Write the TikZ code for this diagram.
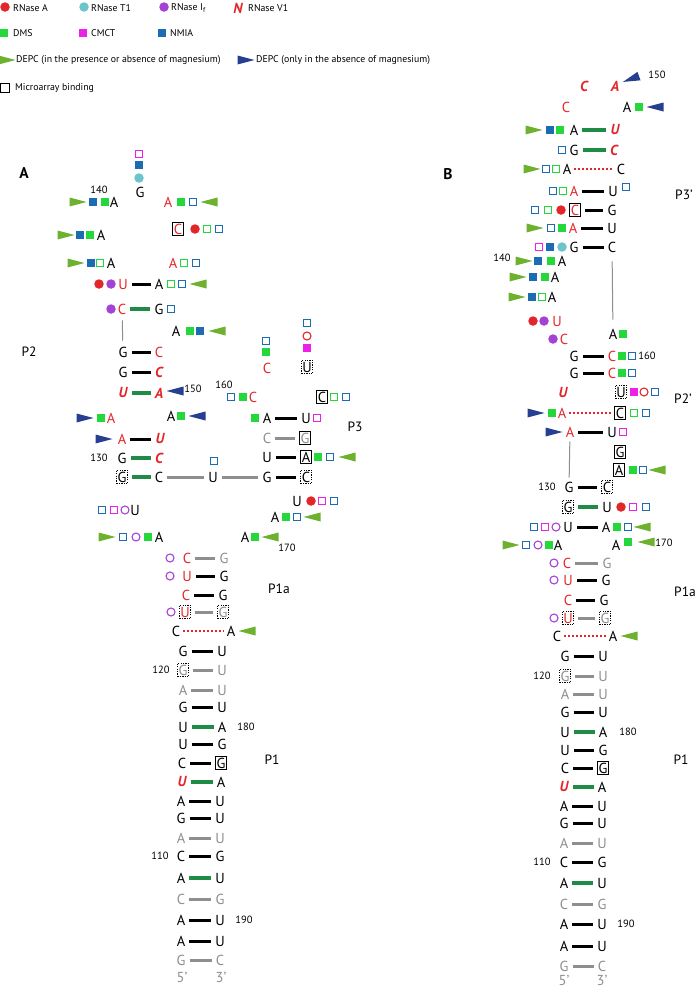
\documentclass[tikz,border=0pt]{standalone}
\usepackage{fontspec}
\setmainfont{PT Sans}
\definecolor{cR}{HTML}{E3262A}
\definecolor{cT}{HTML}{6CC5CC}
\definecolor{cP}{HTML}{A542D6}
\definecolor{cG}{HTML}{24D83C}
\definecolor{cM}{HTML}{EE1FE6}
\definecolor{cB}{HTML}{1C6CB4}
\definecolor{cTG}{HTML}{6DB12F}
\definecolor{cN}{HTML}{263F91}
\definecolor{cPG}{HTML}{1F8B47}
\definecolor{cGy}{HTML}{8E8E8E}
\newcommand\ntf{\fontsize{14.5}{14.5}\selectfont}
\newcommand\numf{\fontsize{10.5}{10.5}\selectfont}
\newcommand\labf{\fontsize{13.5}{13.5}\selectfont}
\newcommand\legf{\fontsize{9.8}{10}\selectfont}
\newcounter{mk}
\newcommand\mk[3]{\stepcounter{mk}\node[#1] (mk\arabic{mk}) at (#2,#3) {};}
\newcommand\tri[4]{\stepcounter{mk}\coordinate (mk\arabic{mk}) at (#2,#3);\fill[#1,shift={(mk\arabic{mk})},rotate=#4] (-8.5,-4.5) -- (8.5,0) -- (-8.5,4.5) -- cycle;}
\newcommand\bp[9]{\node[#5] (#1l) at (#2,#4) {#6};\node[#7] (#1r) at (#3,#4) {#8};\draw[#9] (#1l) -- (#1r);}
\tikzset{
 nt/.style={inner sep=0pt, font=\ntf},
 nk/.style={nt, text=black},
 nr/.style={nt, text=cR},
 nrb/.style={nt, text=cR, font=\ntf\bfseries\itshape},
 ngy/.style={nt, text=cGy},
 bxs/.style={draw=black, line width=0.9pt, minimum width=11pt, minimum height=13.5pt},
 bxd/.style={draw=black, line width=0.9pt, dash pattern=on 1.2pt off 1.2pt, minimum width=11pt, minimum height=13.5pt},
 pk/.style={draw=black, line width=3pt, shorten <=4pt, shorten >=4pt},
 pgn/.style={draw=cPG, line width=3.2pt, shorten <=4pt, shorten >=4pt},
 pgy/.style={draw=cGy, line width=3pt, shorten <=4pt, shorten >=4pt},
 prd/.style={draw=cR, line width=2pt, dash pattern=on 2pt off 2pt, shorten <=3pt, shorten >=3pt},
 vl/.style={draw=cGy, line width=1pt, shorten <=#1, shorten >=#1},
 fs/.style={minimum size=8.5pt, inner sep=0pt, fill=#1},
 os/.style={minimum size=7.5pt, inner sep=0pt, draw=#1, line width=1.1pt},
 fc/.style={circle, minimum size=9.5pt, inner sep=0pt, fill=#1},
 oc/.style={circle, minimum size=8pt, inner sep=0pt, draw=#1, line width=1.1pt},
 num/.style={inner sep=0pt, font=\numf},
 lab/.style={inner sep=0pt, font=\labf},
 leg/.style={inner sep=0pt, font=\legf, anchor=west},
 pan/.style={inner sep=0pt, font=\fontsize{15.5}{15.5}\selectfont\bfseries},
}
\begin{document}
\begin{tikzpicture}[x=1pt,y=-1pt]
\useasboundingbox (0,0) rectangle (699,988);
% ---------------- legend
\mk{fc=cR}{5}{7} \node[leg] (l1) at (13,8) {RNase A};
\mk{fc=cT}{84}{7} \node[leg] (l2) at (91,8) {RNase T1};
\mk{fc=cP}{164}{7} \node[leg] (l3) at (171,8) {RNase I\textsubscript{f}};
\node[nrb] (l4) at (238,8) {N}; \node[leg] (l5) at (248,8) {RNase V1};
\mk{fs=cG}{4}{33} \node[leg] (l6) at (13,33) {DMS};
\mk{fs=cM}{83}{33} \node[leg] (l7) at (91,33) {CMCT};
\mk{fs=cB}{162}{33} \node[leg] (l8) at (170,33) {NMIA};
\tri{cTG}{7}{60}{0} \node[leg] (l9) at (16,60) {DEPC (in the presence or absence of magnesium)};
\tri{cN}{246}{60}{0} \node[leg] (l10) at (256,60) {DEPC (only in the absence of magnesium)};
\node[os=black, minimum size=9pt] (l11) at (5,88) {}; \node[leg] (l12) at (15,88) {Microarray binding};
% ---------------- panel A
\node[pan] (pA) at (24,173) {A};
\node[lab] (P2) at (29,352) {P2};
\node[lab] (P3) at (355,427) {P3};
\node[lab] (P1aA) at (279,589) {P1a};
\node[lab] (P1A) at (272,760) {P1};
\mk{os=cM}{139}{154} \mk{fs=cB}{139}{165} \mk{fc=cT}{139}{178}
\node[nk] (a1) at (140,192) {G};
\node[num] (n140a) at (99,190) {140};
\tri{cTG}{78}{202}{0} \mk{fs=cB}{93}{202} \mk{fs=cG}{105}{202}
\node[nk] (a2) at (114,202) {A};
\node[nr] (a3) at (168,202) {A}; \mk{fs=cG}{181}{202} \mk{os=cB}{193}{202} \tri{cTG}{209}{202}{180}
\tri{cTG}{66}{235}{0} \mk{fs=cB}{80}{235} \mk{fs=cG}{90}{235}
\node[nk] (a4) at (101,235) {A};
\node[nr,bxs] (a5) at (178,229) {C}; \mk{fc=cR}{195}{229} \mk{os=cG}{207}{229} \mk{os=cB}{219}{229}
\tri{cTG}{76}{263}{0} \mk{fs=cB}{91}{263} \mk{os=cG}{100}{263}
\node[nk] (a6) at (111,263) {A};
\node[nr] (a7) at (173,263) {A}; \mk{os=cG}{184}{263} \mk{os=cB}{196}{263}
\mk{fc=cR}{99}{284} \mk{fc=cP}{111}{284}
\node[nr] (a8) at (123,284) {U}; \node[nk] (a9) at (159,284) {A}; \draw[pk] (a8) -- (a9);
\mk{os=cG}{171}{284} \mk{os=cB}{182}{284} \tri{cTG}{198}{284}{180}
\mk{fc=cP}{111}{309}
\node[nr] (a10) at (122,309) {C}; \node[nk] (a11) at (159,309) {G}; \draw[pgn] (a10) -- (a11);
\mk{os=cB}{171}{309}
\node[nk] (a12) at (176,331) {A}; \mk{fs=cG}{190}{331} \mk{fs=cB}{200}{331} \tri{cTG}{217}{331}{180}
\node[nk] (a13) at (123,352) {G}; \node[nr] (a14) at (159,352) {C}; \draw[pk] (a13) -- (a14);
\draw[vl=6pt] (a10) -- (a13);
\node[nk] (a15) at (123,372) {G}; \node[nrb] (a16) at (159,372) {C}; \draw[pk] (a15) -- (a16);
\node[nrb] (a17) at (123,393) {U}; \node[nrb] (a18) at (159,393) {A}; \draw[pgn] (a17) -- (a18);
\tri{cN}{175}{391}{180} \node[num] (n150a) at (193,389) {150};
\tri{cN}{85}{418}{0} \mk{fs=cG}{101}{418} \node[nr] (a19) at (111,418) {A};
\node[nk] (a20) at (171,416) {A}; \mk{fs=cG}{181}{416} \tri{cN}{197}{416}{180}
\tri{cN}{104}{439}{0}
\node[nr] (a21) at (122,439) {A}; \node[nrb] (a22) at (160,439) {U}; \draw[pk] (a21) -- (a22);
\node[num] (n130a) at (99,458) {130};
\node[nk] (a23) at (122,458) {G}; \node[nrb] (a24) at (159,458) {C}; \draw[pgn] (a23) -- (a24);
\node[nk,bxd] (a25) at (122,477) {G}; \node[nk] (a26) at (159,477) {C};
\node[nk] (a27) at (213,477) {U}; \node[nk] (a28) at (267,477) {G}; \node[nk,bxd] (a29) at (306,477) {C};
\draw[pgn] (a25) -- (a26); \draw[pgy] (a26) -- (a27); \draw[pgy] (a27) -- (a28); \draw[pk] (a28) -- (a29);
\mk{os=cB}{214}{461}
% P3 loop
\mk{os=cB}{266}{341} \mk{fs=cG}{266}{352} \node[nr] (a30) at (267,368) {C};
\mk{os=cB}{307}{323} \mk{oc=cR}{307}{336} \mk{fs=cM}{307}{348} \node[nk,bxd] (a31) at (307,367) {U};
\node[num] (n160a) at (224,385) {160};
\mk{os=cB}{231}{397} \mk{fs=cG}{243}{397} \node[nr] (a32) at (253,397) {C};
\node[nk,bxs] (a33) at (322,397) {C}; \mk{os=cG}{334}{397} \mk{os=cB}{346}{397}
\mk{fs=cG}{255}{418}
\node[nk] (a34) at (267,418) {A}; \node[nk] (a35) at (306,418) {U}; \draw[pk] (a34) -- (a35);
\mk{os=cM}{317}{418}
\node[ngy] (a36) at (267,438) {C}; \node[ngy,bxs] (a37) at (305,438) {G}; \draw[pgy] (a36) -- (a37);
\node[nk] (a38) at (267,457) {U}; \node[nk,bxs] (a39) at (306,457) {A}; \draw[pk] (a38) -- (a39);
\mk{fs=cG}{318}{457} \mk{os=cB}{330}{457} \tri{cTG}{347}{457}{180}
% lower loops
\mk{os=cB}{102}{510} \mk{os=cM}{114}{510} \mk{oc=cP}{125}{510} \node[nk] (a40) at (135,510) {U};
\tri{cTG}{107}{537}{0} \mk{os=cB}{123}{537} \mk{oc=cP}{136}{537} \mk{fs=cG}{148}{537}
\node[nk] (a41) at (159,537) {A};
\node[nk] (a42) at (297,501) {U}; \mk{fc=cR}{311}{501} \mk{os=cM}{322}{501} \mk{os=cB}{334}{501}
\node[nk] (a43) at (275,517) {A}; \mk{fs=cG}{286}{517} \mk{os=cB}{297}{517} \tri{cTG}{312}{517}{180}
\node[nk] (a44) at (245,537) {A}; \mk{fs=cG}{255}{537} \tri{cTG}{270}{537}{180}
\node[num] (n170a) at (287,548) {170};
% P1a
\mk{oc=cP}{170}{558}
\bp{aq1}{187}{224}{558}{nr}{C}{ngy}{G}{pgy}
\mk{oc=cP}{170}{576}
\bp{aq2}{187}{224}{576}{nr}{U}{nk}{G}{pk}
\bp{aq3}{186}{223}{595}{nr}{C}{nk}{G}{pk}
\mk{oc=cP}{171}{612}
\bp{aq4}{185}{223}{612}{nr,bxd}{U}{ngy,bxd}{G}{pgy}
\bp{aq5}{176}{231}{631}{nk}{C}{nk}{A}{prd}
\tri{cTG}{247}{631}{180}
% P1
\bp{ar1}{183}{222}{651}{nk}{G}{nk}{U}{pk}
\bp{ar2}{183}{222}{670}{ngy,bxd}{G}{ngy}{U}{pgy}
\node[num] (n120a) at (161,670) {120};
\bp{ar3}{183}{222}{690}{ngy}{A}{ngy}{U}{pgy}
\bp{ar4}{183}{222}{707}{nk}{G}{nk}{U}{pk}
\bp{ar5}{183}{222}{727}{nk}{U}{nk}{A}{pgn}
\node[num] (n180a) at (246,727) {180};
\bp{ar6}{183}{222}{744}{nk}{U}{nk}{G}{pk}
\bp{ar7}{182}{221}{763}{nk}{C}{nk,bxs}{G}{pk}
\bp{ar8}{182}{221}{782}{nrb}{U}{nk}{A}{pgn}
\bp{ar9}{181}{220}{801}{nk}{A}{nk}{U}{pk}
\bp{ar10}{181}{220}{818}{nk}{G}{nk}{U}{pk}
\bp{ar11}{181}{220}{838}{ngy}{A}{ngy}{U}{pgy}
\bp{ar12}{181}{220}{856}{nk}{C}{nk}{G}{pk}
\node[num] (n110a) at (160,856) {110};
\bp{ar13}{181}{220}{878}{nk}{A}{nk}{U}{pgn}
\bp{ar14}{181}{220}{899}{ngy}{C}{ngy}{G}{pgy}
\bp{ar15}{181}{220}{920}{nk}{A}{nk}{U}{pk}
\node[num] (n190a) at (244,920) {190};
\bp{ar16}{181}{220}{941}{nk}{A}{nk}{U}{pk}
\bp{ar17}{181}{220}{960}{ngy}{G}{ngy}{C}{pgy}
\node[ngy] (a5p) at (182,977) {5’}; \node[ngy] (a3p) at (221,977) {3’};
% ---------------- panel B
\node[pan] (pB) at (448,174) {B};
\node[lab] (P3p) at (684,195) {P3’};
\node[lab] (P2p) at (683,399) {P2’};
\node[lab] (P1aB) at (685,592) {P1a};
\node[lab] (P1B) at (681,760) {P1};
\node[nrb] (b1) at (584,86) {C}; \node[nrb] (b2) at (615,86) {A};
\tri{cN}{631}{79}{200} \node[num] (n150b) at (657,75) {150};
\node[nr] (b3) at (566,107) {C};
\node[nk] (b4) at (627,107) {A}; \mk{fs=cG}{639}{107} \tri{cN}{655}{107}{180}
\tri{cTG}{534}{130}{0} \mk{fs=cB}{550}{130} \mk{fs=cG}{560}{130}
\node[nk] (b5) at (574,130) {A}; \node[nrb] (b6) at (615,130) {U}; \draw[pgn] (b5) -- (b6);
\mk{os=cB}{562}{150}
\node[nk] (b7) at (574,150) {G}; \node[nrb] (b8) at (614,150) {C}; \draw[pgn] (b7) -- (b8);
\tri{cTG}{532}{169}{0} \mk{os=cB}{546}{169} \mk{os=cG}{556}{169}
\node[nk] (b9) at (567,169) {A}; \node[nk] (b10) at (621,169) {C}; \draw[prd] (b9) -- (b10);
\mk{os=cB}{553}{191} \mk{os=cG}{563}{191}
\node[nr] (b11) at (574,191) {A}; \node[nk] (b12) at (613,191) {U}; \draw[pk] (b11) -- (b12);
\mk{os=cB}{626}{187}
\mk{os=cB}{535}{210} \mk{os=cG}{548}{210} \mk{fc=cR}{561}{210}
\node[nr,bxs] (b13) at (575,210) {C}; \node[nk] (b14) at (612,210) {G}; \draw[pk] (b13) -- (b14);
\tri{cTG}{535}{228}{0} \mk{os=cB}{551}{228} \mk{fs=cG}{562}{228}
\node[nr] (b15) at (573,228) {A}; \node[nk] (b16) at (612,228) {U}; \draw[pk] (b15) -- (b16);
\mk{os=cM}{539}{247} \mk{fs=cB}{550}{247} \mk{fc=cT}{562}{247}
\node[nk] (b17) at (574,247) {G}; \node[nk] (b18) at (612,247) {C}; \draw[pk] (b17) -- (b18);
\node[num] (n140b) at (502,258) {140};
\tri{cTG}{524}{261}{0} \mk{fs=cB}{538}{261} \mk{fs=cG}{551}{261} \node[nk] (b19) at (562,261) {A};
\tri{cTG}{518}{277}{0} \mk{fs=cB}{533}{277} \mk{fs=cG}{545}{277} \node[nk] (b20) at (555,277) {A};
\tri{cTG}{517}{297}{0} \mk{fs=cB}{532}{297} \mk{os=cG}{542}{297} \node[nk] (b21) at (552,297) {A};
\mk{fc=cR}{533}{321} \mk{fc=cP}{544}{321} \node[nr] (b22) at (557,321) {U};
\mk{fc=cP}{553}{339} \node[nr] (b23) at (564,339) {C};
\node[nk] (b24) at (613,334) {A}; \mk{fs=cG}{623}{334}
\draw[vl=9pt] (b18) -- (b24);
\node[nk] (b25) at (574,356) {G}; \node[nr] (b26) at (612,356) {C}; \draw[pk] (b25) -- (b26);
\mk{fs=cG}{622}{356} \mk{os=cB}{632}{356} \node[num] (n160b) at (647,356) {160};
\node[nk] (b27) at (574,373) {G}; \node[nr] (b28) at (612,373) {C}; \draw[pk] (b27) -- (b28);
\mk{fs=cG}{622}{373} \mk{os=cB}{632}{373}
\node[nrb] (b29) at (563,393) {U};
\node[nk,bxd] (b30) at (621,392) {U}; \mk{fs=cM}{634}{392} \mk{oc=cR}{644}{392} \mk{os=cB}{655}{392}
\tri{cN}{536}{413}{0} \mk{fs=cG}{552}{413}
\node[nr] (b31) at (562,413) {A}; \node[nk,bxs] (b32) at (620,413) {C}; \draw[prd] (b31) -- (b32);
\mk{os=cG}{634}{413} \mk{os=cB}{646}{413}
\tri{cN}{554}{432}{0}
\node[nr] (b33) at (570,432) {A}; \node[nk] (b34) at (612,432) {U}; \draw[pk] (b33) -- (b34);
\mk{os=cM}{623}{432}
\node[nk,bxs] (b35) at (620,452) {G};
\node[nk,bxs] (b36) at (619,470) {A}; \mk{fs=cG}{633}{470} \mk{os=cB}{643}{470} \tri{cTG}{657}{470}{180}
\node[num] (n130b) at (547,487) {130};
\node[nk] (b37) at (569,487) {G}; \node[nk,bxd] (b38) at (607,487) {C}; \draw[pk] (b37) -- (b38);
\draw[vl=4pt] (b33) -- (b37);
\node[nk,bxd] (b39) at (568,507) {G}; \node[nk] (b40) at (607,507) {U}; \draw[pgn] (b39) -- (b40);
\mk{fc=cR}{621}{507} \mk{os=cM}{633}{507} \mk{os=cB}{646}{507}
\mk{os=cB}{534}{527} \mk{os=cM}{545}{527} \mk{oc=cP}{556}{527}
\node[nk] (b41) at (568,527) {U}; \node[nk] (b42) at (606,527) {A}; \draw[pk] (b41) -- (b42);
\mk{fs=cG}{617}{527} \mk{os=cB}{628}{527} \tri{cTG}{642}{527}{180}
\tri{cTG}{511}{545}{0} \mk{os=cB}{526}{545} \mk{oc=cP}{538}{545} \mk{fs=cG}{549}{545}
\node[nk] (b43) at (558,545) {A};
\node[nk] (b44) at (616,545) {A}; \mk{fs=cG}{628}{542} \tri{cTG}{646}{542}{180}
\node[num] (n170b) at (664,543) {170};
% P1a B
\mk{oc=cP}{554}{563}
\bp{bq1}{567}{607}{563}{nr}{C}{ngy}{G}{pgy}
\mk{oc=cP}{554}{580}
\bp{bq2}{568}{606}{580}{nr}{U}{nk}{G}{pk}
\bp{bq3}{568}{604}{600}{nr}{C}{nk}{G}{pk}
\mk{oc=cP}{554}{618}
\bp{bq4}{568}{605}{618}{nr,bxd}{U}{ngy,bxd}{G}{pgy}
\bp{bq5}{557}{613}{636}{nk}{C}{nk}{A}{prd}
\tri{cTG}{629}{636}{180}
% P1 B
\bp{br1}{565}{603}{656}{nk}{G}{nk}{U}{pk}
\bp{br2}{565}{603}{676}{ngy,bxd}{G}{ngy}{U}{pgy}
\node[num] (n120b) at (542,676) {120};
\bp{br3}{565}{603}{694}{ngy}{A}{ngy}{U}{pgy}
\bp{br4}{565}{603}{712}{nk}{G}{nk}{U}{pk}
\bp{br5}{565}{603}{732}{nk}{U}{nk}{A}{pgn}
\node[num] (n180b) at (628,732) {180};
\bp{br6}{565}{603}{750}{nk}{U}{nk}{G}{pk}
\bp{br7}{565}{603}{768}{nk}{C}{nk,bxs}{G}{pk}
\bp{br8}{564}{602}{787}{nrb}{U}{nk}{A}{pgn}
\bp{br9}{564}{602}{806}{nk}{A}{nk}{U}{pk}
\bp{br10}{564}{602}{823}{nk}{G}{nk}{U}{pk}
\bp{br11}{564}{602}{843}{ngy}{A}{ngy}{U}{pgy}
\bp{br12}{564}{602}{862}{nk}{C}{nk}{G}{pk}
\node[num] (n110b) at (542,862) {110};
\bp{br13}{564}{602}{883}{nk}{A}{nk}{U}{pgn}
\bp{br14}{564}{602}{904}{ngy}{C}{ngy}{G}{pgy}
\bp{br15}{564}{602}{924}{nk}{A}{nk}{U}{pk}
\node[num] (n190b) at (626,924) {190};
\bp{br16}{564}{602}{946}{nk}{A}{nk}{U}{pk}
\bp{br17}{564}{602}{966}{ngy}{G}{ngy}{C}{pgy}
\node[ngy] (b5p) at (564,980) {5’}; \node[ngy] (b3p) at (602,980) {3’};
\end{tikzpicture}
\end{document}
